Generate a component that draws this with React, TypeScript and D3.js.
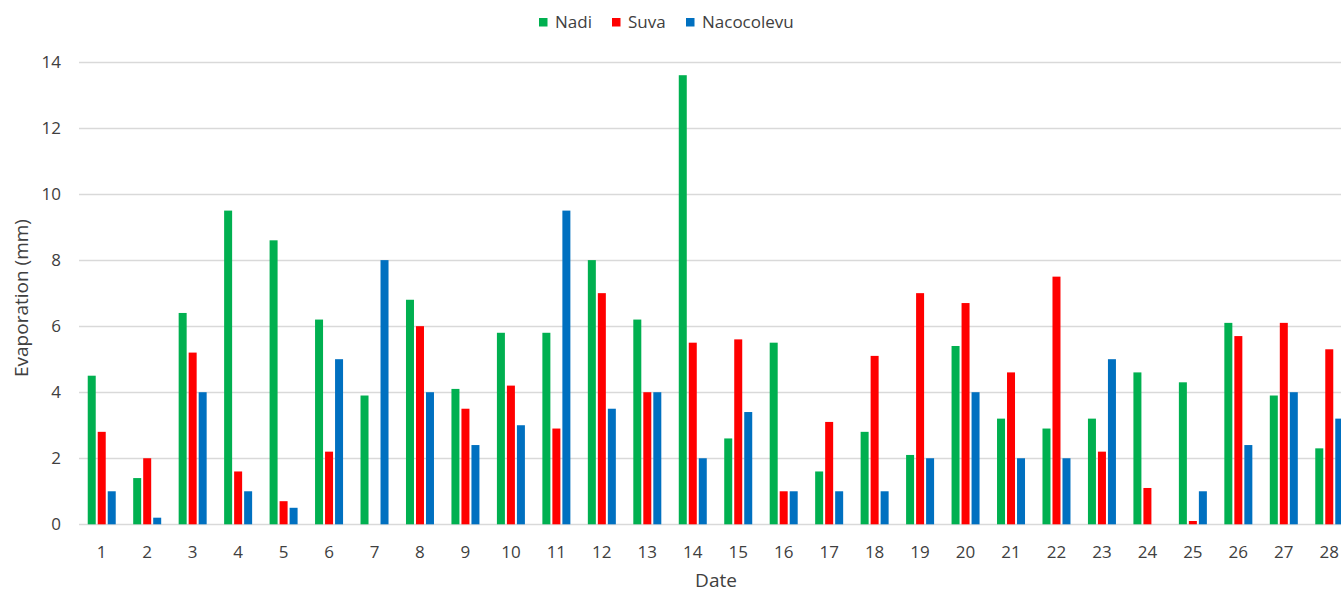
import React, { useEffect, useRef } from "react";
import * as d3 from "d3";

const dates: string[] = [
  "1", "2", "3", "4", "5", "6", "7", "8", "9", "10", "11", "12", "13", "14",
  "15", "16", "17", "18", "19", "20", "21", "22", "23", "24", "25", "26", "27", "28",
];

const seriesNames = ["Nadi", "Suva", "Nacocolevu"];
const seriesColors = ["#00B050", "#FF0000", "#0070C0"];

const nadi = [4.5, 1.4, 6.4, 9.5, 8.6, 6.2, 3.9, 6.8, 4.1, 5.8, 5.8, 8.0, 6.2, 13.6, 2.6, 5.5, 1.6, 2.8, 2.1, 5.4, 3.2, 2.9, 3.2, 4.6, 4.3, 6.1, 3.9, 2.3];
const suva = [2.8, 2.0, 5.2, 1.6, 0.7, 2.2, 0, 6.0, 3.5, 4.2, 2.9, 7.0, 4.0, 5.5, 5.6, 1.0, 3.1, 5.1, 7.0, 6.7, 4.6, 7.5, 2.2, 1.1, 0.1, 5.7, 6.1, 5.3];
const nacocolevu = [1.0, 0.2, 4.0, 1.0, 0.5, 5.0, 8.0, 4.0, 2.4, 3.0, 9.5, 3.5, 4.0, 2.0, 3.4, 1.0, 1.0, 1.0, 2.0, 4.0, 2.0, 2.0, 5.0, 0, 1.0, 2.4, 4.0, 3.2];

const yTicks = [0, 2, 4, 6, 8, 10, 12, 14];

const W = 1341;
const H = 593;
const FONT = "'Open Sans', sans-serif";

const App: React.FC = () => {
  const svgRef = useRef<SVGSVGElement | null>(null);

  useEffect(() => {
    const svg = d3.select(svgRef.current);
    svg.selectAll("*").remove();

    const values = [nadi, suva, nacocolevu];

    const x = d3.scaleBand().domain(dates).range([79, 1352]).padding(0);
    const inner = d3
      .scaleBand()
      .domain(seriesNames)
      .range([-14, 14])
      .paddingInner(0.2)
      .paddingOuter(0);
    const y = d3.scaleLinear().domain([0, 14]).range([524.3, 62]);

    // gridlines
    svg
      .append("g")
      .selectAll("line")
      .data(yTicks)
      .join("line")
      .attr("x1", 79)
      .attr("x2", W)
      .attr("y1", (d) => Math.round(y(d)) + 0.5)
      .attr("y2", (d) => Math.round(y(d)) + 0.5)
      .attr("stroke", "#d9d9d9")
      .attr("stroke-width", 1.3);

    // y tick labels
    svg
      .append("g")
      .selectAll("text")
      .data(yTicks)
      .join("text")
      .attr("x", 61)
      .attr("y", (d) => y(d) + 6)
      .attr("text-anchor", "end")
      .attr("font-family", FONT)
      .attr("font-size", 17)
      .attr("fill", "#404040")
      .text((d) => d);

    // bars
    seriesNames.forEach((name, si) => {
      svg
        .append("g")
        .selectAll("rect")
        .data(values[si])
        .join("rect")
        .attr("x", (_, i) => x(dates[i])! + x.bandwidth() / 2 + inner(name)!)
        .attr("y", (d) => y(d))
        .attr("width", inner.bandwidth())
        .attr("height", (d) => y(0) - y(d))
        .attr("fill", seriesColors[si]);
    });

    // x tick labels
    svg
      .append("g")
      .selectAll("text")
      .data(dates)
      .join("text")
      .attr("x", (d) => x(d)! + x.bandwidth() / 2)
      .attr("y", 557.5)
      .attr("text-anchor", "middle")
      .attr("font-family", FONT)
      .attr("font-size", 17)
      .attr("fill", "#404040")
      .text((d) => d);

    // axis titles
    svg
      .append("text")
      .attr("x", 716)
      .attr("y", 587)
      .attr("text-anchor", "middle")
      .attr("font-family", FONT)
      .attr("font-size", 19)
      .attr("fill", "#404040")
      .text("Date");

    svg
      .append("text")
      .attr("transform", `translate(28,${298}) rotate(-90)`)
      .attr("text-anchor", "middle")
      .attr("font-family", FONT)
      .attr("font-size", 19)
      .attr("fill", "#404040")
      .text("Evaporation (mm)");

    // legend
    const legendX = [539, 612, 686];
    const legend = svg
      .append("g")
      .selectAll("g")
      .data(seriesNames)
      .join("g")
      .attr("transform", (_, i) => `translate(${legendX[i]},18)`);
    legend
      .append("rect")
      .attr("width", 8.5)
      .attr("height", 8.5)
      .attr("fill", (_, i) => seriesColors[i]);
    legend
      .append("text")
      .attr("x", 16)
      .attr("y", 10)
      .attr("font-family", FONT)
      .attr("font-size", 17)
      .attr("fill", "#404040")
      .text((d) => d);
  }, []);

  return (
    <div style={{ position: "absolute", left: 0, top: 0 }}>
      <svg ref={svgRef} width={W} height={H} style={{ display: "block", background: "#fff" }} />
    </div>
  );
};

export default App;
